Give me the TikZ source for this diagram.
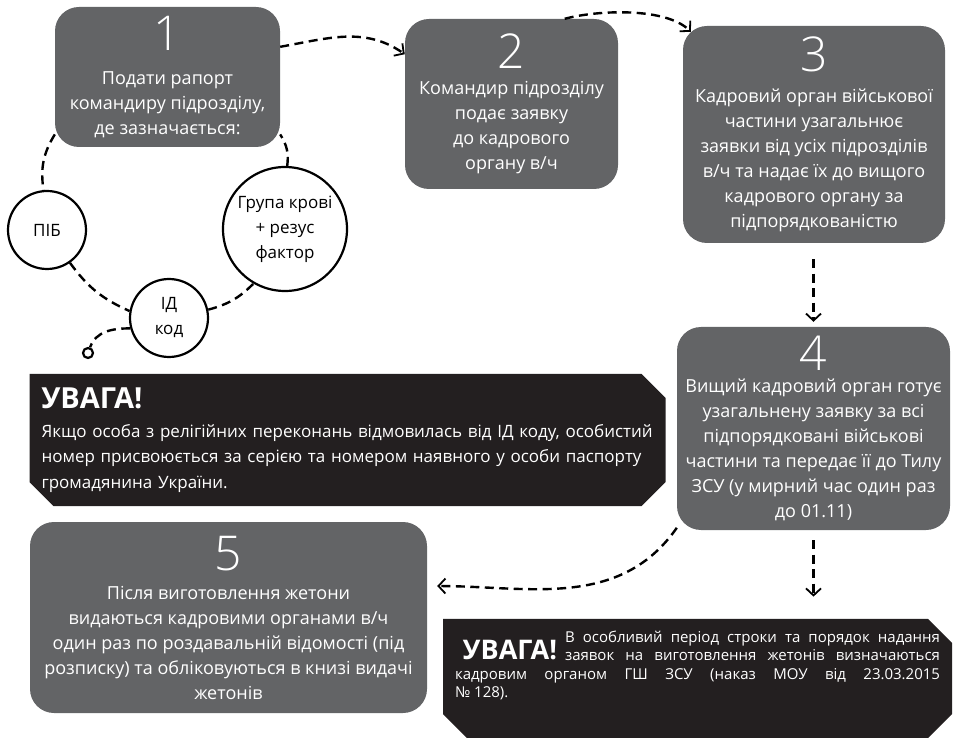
\documentclass[tikz,border=0pt]{standalone}
\usepackage{fontspec}
\setmainfont{Open Sans}
\newfontfamily\numfont{Open Sans Light}
\usetikzlibrary{arrows.meta,shapes.misc,positioning}
\definecolor{stepgray}{RGB}{99,100,102}
\definecolor{noteblack}{RGB}{35,31,32}
\newcommand{\stepno}[1]{{\numfont\fontsize{48}{48}\selectfont #1}}
\newcommand{\uvagaword}[1]{{\fontsize{#1}{#1}\selectfont\bfseries УВАГА!}}

\begin{document}
\begin{tikzpicture}[x=1pt,y=1pt,
    stepbox/.style={fill=stepgray, rounded corners=24pt, text=white, align=center, inner sep=0pt, font=\fontsize{18}{25}\selectfont},
    notebox/.style={chamfered rectangle, chamfered rectangle xsep=12pt, chamfered rectangle ysep=12pt, chamfered rectangle corners={north east,south east,south west}, fill=noteblack, text=white, inner sep=0pt},
    member/.style={circle, draw=black, line width=2.2pt, fill=white, align=center, inner sep=0pt, font=\fontsize{17}{25}\selectfont},
    ring/.style={line width=2.4pt, dash pattern=on 9pt off 5.5pt},
    link/.style={ring, -{Straight Barb[length=7pt,width=15pt,line width=1.8pt]}}]
    \useasboundingbox (0,0) rectangle (955,737);
    \node[stepbox, minimum width=225pt, minimum height=140pt] (b1) at (167.5,660) {\stepno{1}\\[9pt]Подати рапорт\\командиру підрозділу,\\де зазначається:};
    \node[stepbox, minimum width=213pt, minimum height=170pt] (b2) at (511.5,633) {\stepno{2}\\[1pt]Командир підрозділу\\подає заявку\\до кадрового\\органу в/ч};
    \node[stepbox, minimum width=262pt, minimum height=217pt] (b3) at (814,602.5) {\stepno{3}\\[6pt]Кадровий орган військової\\частини узагальнює\\заявки від усіх підрозділів\\в/ч та надає їх до вищого\\кадрового органу за\\підпорядкованістю};
    \node[stepbox, minimum width=273pt, minimum height=203pt] (b4) at (813.5,308.5) {\stepno{4}\\[-3pt]Вищий кадровий орган готує\\узагальнену заявку за всі\\підпорядковані військові\\частини та передає її до Тилу\\ЗСУ (у мирний час один раз\\до 01.11)};
    \node[stepbox, minimum width=397pt, minimum height=191pt] (b5) at (228.5,119.5) {\stepno{5}\\[4pt]Після виготовлення жетони\\видаються кадровими органами в/ч\\один раз по роздавальній відомості (під\\розписку) та обліковуються в книзі видачі\\жетонів};
    \node[notebox, minimum width=635pt, minimum height=132pt, text width=612pt, align=left, font=\fontsize{17}{25.5}\selectfont] (w1) at (347.5,297) {\uvagaword{29}\\[3pt]Якщо особа з релігійних переконань відмовилась від ІД коду, особистий\\номер присвоюється за серією та номером наявного у особи паспорту\\громадянина України.};
    \node[notebox, minimum width=505pt, minimum height=113pt, text width=485pt, align=justify, font=\fontsize{15}{18.5}\selectfont] (w2) at (697.5,58.5) {\hangindent=110pt\hangafter=-2\noindent\llap{\raisebox{-17pt}[0pt][0pt]{\uvagaword{27}}\hspace{8pt}}В особливий період строки та порядок надання\linebreak заявок на виготовлення жетонів визначаються\linebreak кадровим органом ГШ ЗСУ (наказ МОУ від 23.03.2015\linebreak №~128).\par\vspace{26pt}};
    \node[member, minimum size=78pt] (pib) at (47,507) {ПІБ};
    \node[member, minimum size=124pt] (blood) at (285,508) {Група крові\\+ резус\\фактор};
    \node[member, minimum size=78pt] (idc) at (169,419) {ІД\\код};
    \node[circle, draw=black, line width=2.2pt, minimum size=10pt, inner sep=0pt] (tail) at (88,384) {};
    \draw[ring] (b1.207) to[bend right=20] (pib.95);
    \draw[ring] (pib.-55) to[bend right=15] (idc.170);
    \draw[ring] (idc.12) to[bend right=15] (blood.240);
    \draw[ring] (blood.88) to[bend right=20] (b1.-27);
    \draw[ring] (idc.195) to[out=180,in=70] (tail);
    \draw[link] (b1.15) to[out=10,in=145] (b2.155);
    \draw[link] (b2.58) to[out=15,in=135,looseness=0.7] ([shift={(8pt,-6pt)}]b3.north west);
    \draw[link, shorten <=16pt, shorten >=5pt] (b3.south -| b4.north) -- (b4.north);
    \draw[link, shorten >=10pt] (b4.216) to[out=235,in=0] (b5.9);
    \draw[link, shorten <=10pt, shorten >=22pt] (b4.south) -- (b4.south |- w2.north);
\end{tikzpicture}
\end{document}
